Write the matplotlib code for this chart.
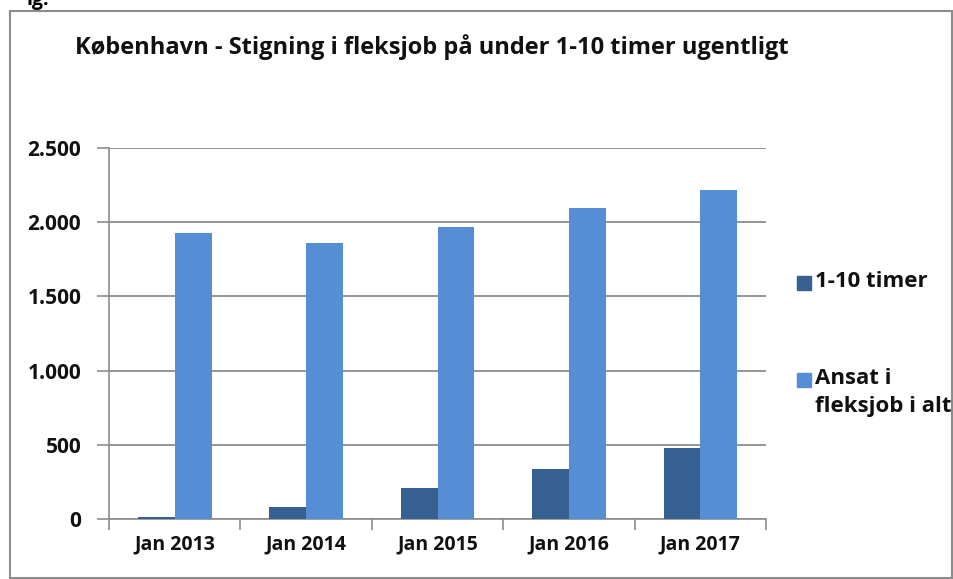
import matplotlib
matplotlib.use("Agg")
import matplotlib.pyplot as plt
from matplotlib.patches import Rectangle
from matplotlib.ticker import FuncFormatter
import numpy as np

plt.rcParams['font.family'] = ['Open Sans', 'DejaVu Sans']

# data
years = ["Jan 2013", "Jan 2014", "Jan 2015", "Jan 2016", "Jan 2017"]
timer_1_10 = [15, 78, 206, 338, 477]
ansat_i_alt = [1924, 1860, 1969, 2098, 2218]
series_names = ["1-10 timer", "Ansat i\nfleksjob i alt"]
colors = ["#376092", "#558ED5"]
title = "København - Stigning i fleksjob på under 1-10 timer ugentligt"

fig = plt.figure(figsize=(9.54, 5.79), dpi=100)
ax = fig.add_axes([0.1143, 0.1036, 0.6887, 0.6408])

x = np.arange(len(years))
w = 0.28
ax.bar(x - w/2, timer_1_10, w, color=colors[0], zorder=3)
ax.bar(x + w/2, ansat_i_alt, w, color=colors[1], zorder=3)

ax.set_xlim(-0.5, len(years) - 0.5)
ax.set_ylim(0, 2500)
ax.set_yticks([0, 500, 1000, 1500, 2000, 2500])
ax.yaxis.set_major_formatter(FuncFormatter(lambda v, p: "{:,.0f}".format(v).replace(",", ".")))
ax.yaxis.grid(True, color="#8c8c8c", lw=1.3, zorder=0)

# categories labelled in the middle, ticks at the boundaries
ax.set_xticks(x)
ax.set_xticklabels(years)
ax.set_xticks(np.arange(len(years) + 1) - 0.5, minor=True)
ax.tick_params(axis="x", which="major", length=0, pad=11)
ax.tick_params(axis="x", which="minor", length=8, color="#8c8c8c", width=1.2)
ax.tick_params(axis="y", length=9, color="#8c8c8c", width=1.2, pad=11)
for lab in ax.get_xticklabels():
    lab.set_fontsize(14)
    lab.set_fontweight("bold")
    lab.set_color("#111111")
for lab in ax.get_yticklabels():
    lab.set_fontsize(15)
    lab.set_fontweight("bold")
    lab.set_color("#111111")

for s in ["top", "right"]:
    ax.spines[s].set_visible(False)
for s in ["left", "bottom"]:
    ax.spines[s].set_color("#8c8c8c")
    ax.spines[s].set_linewidth(1.2)

fig.text(0.453, 0.919, title, ha="center", va="center", fontsize=17, fontweight="bold", color="#111111")

# legend drawn by hand so the square sits on the first line
leg_y = [1 - 283/579, 1 - 380/579]
for name, c, yy in zip(series_names, colors, leg_y):
    fig.patches.append(Rectangle((797/954, yy - 7/579), 14/954, 14/579, transform=fig.transFigure, color=c))
    fig.text(815/954, yy + 12/579, name, ha="left", va="top", fontsize=16, fontweight="bold",
             color="#111111", linespacing=1.45)

# chart frame
fig.patches.append(Rectangle((10/954, 1/579), 942/954, 567/579, transform=fig.transFigure,
                             fill=False, ec="#8c8c8c", lw=1.5))
fig.text(0.028, 1.0, "ig.", ha="left", va="center", fontsize=14, fontweight="bold")

fig.savefig("out.png", dpi=100)
